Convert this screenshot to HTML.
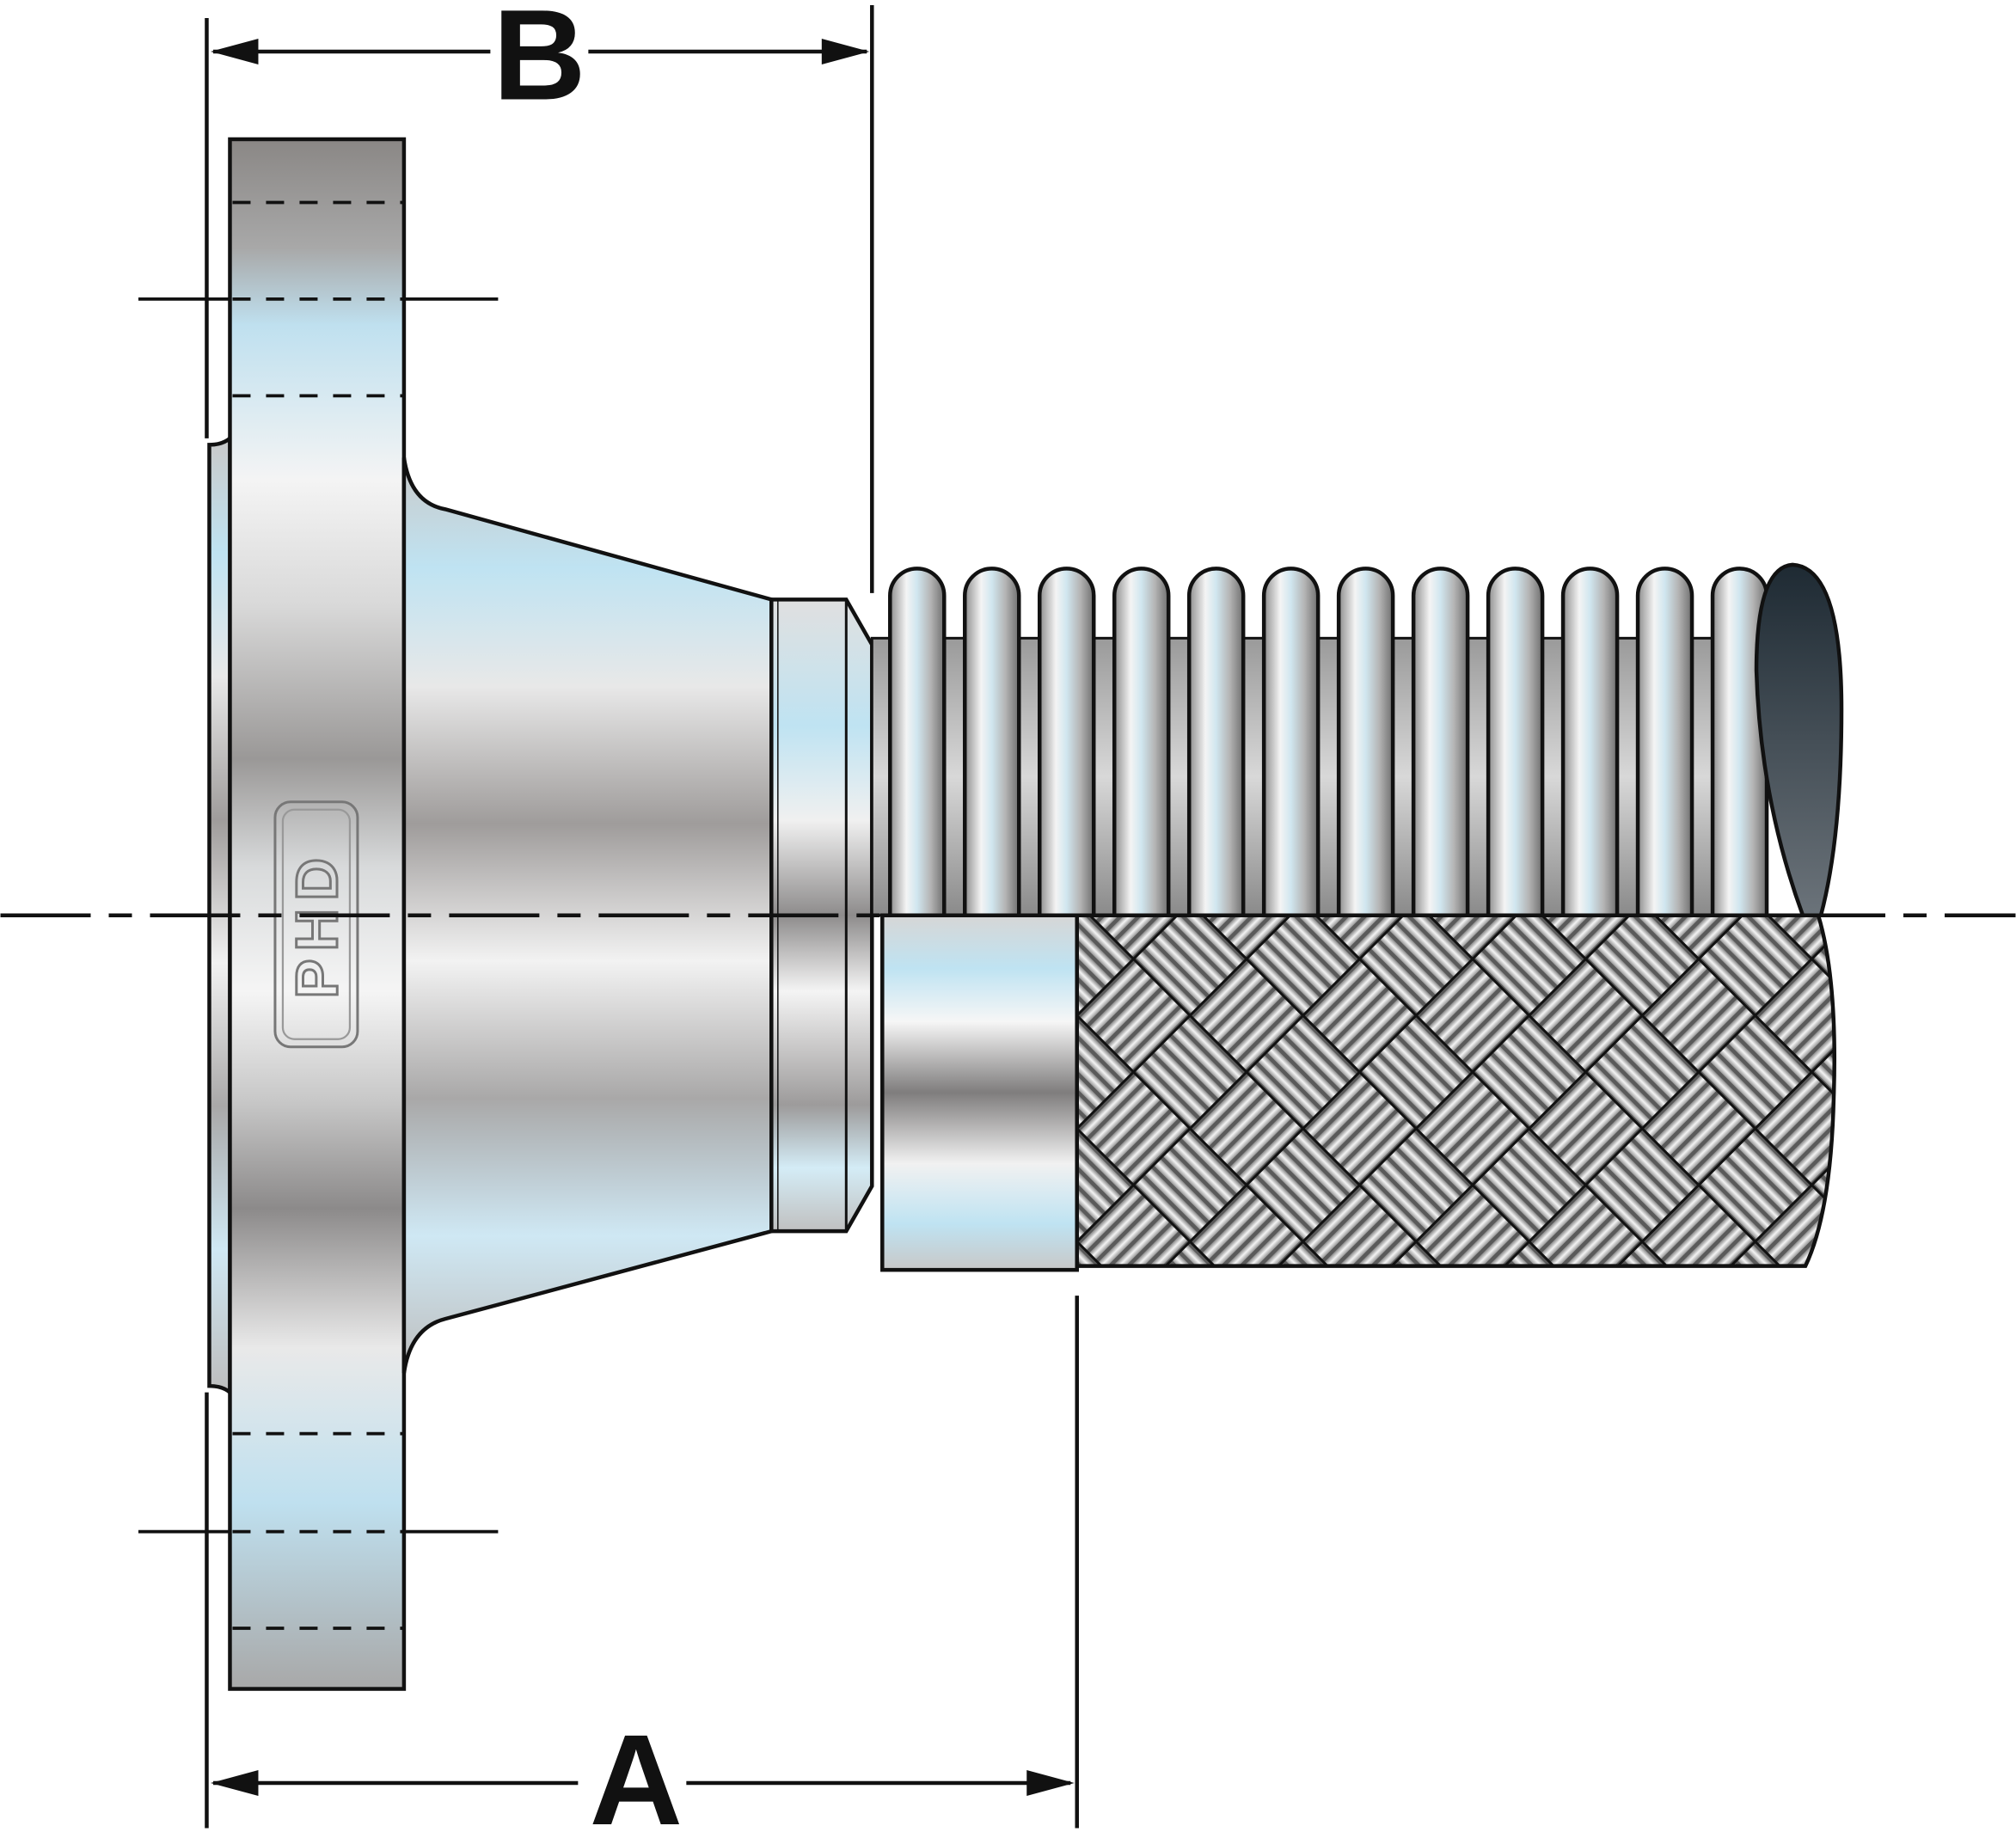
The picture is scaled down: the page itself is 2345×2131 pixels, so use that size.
<!DOCTYPE html>
<html><head><meta charset="utf-8"><style>
html,body{margin:0;padding:0;background:#fff}
svg{display:block}
</style></head><body>
<svg width="2345" height="2131" viewBox="0 0 1563 1421" xmlns="http://www.w3.org/2000/svg">
<defs>
<linearGradient id="fl" x1="0" y1="0" x2="0" y2="1">
<stop offset="0" stop-color="#8a8785"/><stop offset="0.07" stop-color="#a8a8a8"/><stop offset="0.12" stop-color="#bfe0ef"/><stop offset="0.22" stop-color="#f4f4f4"/><stop offset="0.3" stop-color="#d9d9d9"/><stop offset="0.4" stop-color="#9a9897"/><stop offset="0.47" stop-color="#d8dadb"/><stop offset="0.55" stop-color="#f5f5f5"/><stop offset="0.62" stop-color="#c8c8c8"/><stop offset="0.69" stop-color="#8c8a8a"/><stop offset="0.78" stop-color="#e9e9e9"/><stop offset="0.88" stop-color="#bfe0ef"/><stop offset="1" stop-color="#a8a8a8"/>
</linearGradient>
<linearGradient id="cn" x1="0" y1="0" x2="0" y2="1">
<stop offset="0" stop-color="#c9c9c9"/><stop offset="0.12" stop-color="#bfe3f2"/><stop offset="0.25" stop-color="#e8e8e8"/><stop offset="0.4" stop-color="#9f9c9b"/><stop offset="0.55" stop-color="#f2f2f2"/><stop offset="0.7" stop-color="#a9a8a8"/><stop offset="0.85" stop-color="#cfe8f4"/><stop offset="1" stop-color="#bdbdbd"/>
</linearGradient>
<linearGradient id="rg" x1="0" y1="0" x2="0" y2="1">
<stop offset="0" stop-color="#e0e0e0"/><stop offset="0.2" stop-color="#bfe3f2"/><stop offset="0.35" stop-color="#f0f0f0"/><stop offset="0.5" stop-color="#8e8c8c"/><stop offset="0.62" stop-color="#f4f4f4"/><stop offset="0.8" stop-color="#9d9b9b"/><stop offset="0.9" stop-color="#d4ecf6"/><stop offset="1" stop-color="#c0c0c0"/>
</linearGradient>
<linearGradient id="col" x1="0" y1="0" x2="0" y2="1">
<stop offset="0" stop-color="#d6d6d6"/><stop offset="0.15" stop-color="#bfe3f2"/><stop offset="0.3" stop-color="#f6f6f6"/><stop offset="0.5" stop-color="#7f7d7d"/><stop offset="0.7" stop-color="#f1f1f1"/><stop offset="0.87" stop-color="#bfe3f2"/><stop offset="1" stop-color="#c8c8c8"/>
</linearGradient>
<linearGradient id="cv" x1="0" y1="0" x2="1" y2="0">
<stop offset="0" stop-color="#8d8d8d"/><stop offset="0.3" stop-color="#f4f4f4"/><stop offset="0.5" stop-color="#d0e6ef"/><stop offset="0.75" stop-color="#b4b4b4"/><stop offset="1" stop-color="#6f6f6f"/>
</linearGradient>
<linearGradient id="tube" x1="0" y1="0" x2="0" y2="1">
<stop offset="0" stop-color="#9a9a9a"/><stop offset="0.5" stop-color="#d8d8d8"/><stop offset="1" stop-color="#8a8a8a"/>
</linearGradient>
<linearGradient id="end" x1="0" y1="0" x2="0" y2="1">
<stop offset="0" stop-color="#1e2a33"/><stop offset="1" stop-color="#6b737a"/>
</linearGradient>
<linearGradient id="str" x1="0" y1="0" x2="1" y2="0">
<stop offset="0" stop-color="#8a8a8a"/><stop offset="0.5" stop-color="#f4f4f4"/><stop offset="1" stop-color="#9a9a9a"/>
</linearGradient>
<linearGradient id="str2" x1="0" y1="0" x2="0" y2="1">
<stop offset="0" stop-color="#8a8a8a"/><stop offset="0.5" stop-color="#f4f4f4"/><stop offset="1" stop-color="#9a9a9a"/>
</linearGradient>
<g id="hb">
<rect x="0" y="0" width="60" height="60" fill="#5a5a5a"/>
<rect x="0" y="2" width="60" height="7" fill="url(#str2)"/><rect x="0" y="12" width="60" height="7" fill="url(#str2)"/><rect x="0" y="22" width="60" height="7" fill="url(#str2)"/><rect x="0" y="32" width="60" height="7" fill="url(#str2)"/><rect x="0" y="42" width="60" height="7" fill="url(#str2)"/><rect x="0" y="52" width="60" height="7" fill="url(#str2)"/>
</g>
<g id="vb">
<rect x="0" y="0" width="60" height="60" fill="#5a5a5a"/>
<rect x="2" y="0" width="7" height="60" fill="url(#str)"/><rect x="12" y="0" width="7" height="60" fill="url(#str)"/><rect x="22" y="0" width="7" height="60" fill="url(#str)"/><rect x="32" y="0" width="7" height="60" fill="url(#str)"/><rect x="42" y="0" width="7" height="60" fill="url(#str)"/><rect x="52" y="0" width="7" height="60" fill="url(#str)"/>
</g>
<pattern id="braid" width="124" height="124" patternUnits="userSpaceOnUse" patternTransform="translate(835,700) rotate(45)">
<rect width="124" height="124" fill="#111"/>
<use href="#hb" x="1" y="1"/>
<use href="#vb" x="63" y="1"/>
<use href="#vb" x="1" y="63"/>
<use href="#hb" x="63" y="63"/>
</pattern>
</defs>

<!-- dimensions -->
<g stroke="#111" stroke-width="3" fill="none">
<line x1="160" y1="14" x2="160" y2="340"/>
<line x1="676" y1="4" x2="676" y2="460"/>
<line x1="165" y1="40" x2="380" y2="40"/>
<line x1="456" y1="40" x2="672" y2="40"/>
<line x1="160" y1="1080" x2="160" y2="1418"/>
<line x1="835" y1="1005" x2="835" y2="1418"/>
<line x1="165" y1="1383" x2="448" y2="1383"/>
<line x1="532" y1="1383" x2="830" y2="1383"/>
</g>
<g fill="#111">
<polygon points="163,40 200,30 200,50"/>
<polygon points="674,40 637,30 637,50"/>
<polygon points="163,1383 200,1373 200,1393"/>
<polygon points="833,1383 796,1373 796,1393"/>
</g>
<text x="418" y="77" font-family="Liberation Sans, sans-serif" font-weight="bold" font-size="100" text-anchor="middle" fill="#111">B</text>
<text x="493" y="1415" font-family="Liberation Sans, sans-serif" font-weight="bold" font-size="100" text-anchor="middle" fill="#111">A</text>

<!-- flange lip -->
<path d="M162,345 Q172,345 178,340 L178,1080 Q172,1075 162,1075 Z" fill="url(#cn)" stroke="#111" stroke-width="3"/>
<!-- flange -->
<rect x="178" y="108" width="135" height="1202" fill="url(#fl)" stroke="#111" stroke-width="3"/>
<!-- cone -->
<path d="M313,355 Q318,390 345,395 L598,465 L598,955 L345,1023 Q318,1030 313,1065 Z" fill="url(#cn)" stroke="#111" stroke-width="3"/>
<!-- ring -->
<path d="M598,465 L656,465 L676,500 L676,920 L656,955 L598,955 Z" fill="url(#rg)" stroke="#111" stroke-width="3"/>
<line x1="656" y1="465" x2="656" y2="955" stroke="#111" stroke-width="2"/>
<line x1="603" y1="465" x2="603" y2="955" stroke="#111" stroke-width="1"/>

<!-- corrugated tube -->
<rect x="676" y="495" width="692" height="215" fill="url(#tube)" stroke="#111" stroke-width="2"/>
<g stroke="#111" stroke-width="3" fill="url(#cv)">
<path d="M690,710 L690,462 A21,21 0 0 1 732,462 L732,710 Z"/>
<path d="M748,710 L748,462 A21,21 0 0 1 790,462 L790,710 Z"/>
<path d="M806,710 L806,462 A21,21 0 0 1 848,462 L848,710 Z"/>
<path d="M864,710 L864,462 A21,21 0 0 1 906,462 L906,710 Z"/>
<path d="M922,710 L922,462 A21,21 0 0 1 964,462 L964,710 Z"/>
<path d="M980,710 L980,462 A21,21 0 0 1 1022,462 L1022,710 Z"/>
<path d="M1038,710 L1038,462 A21,21 0 0 1 1080,462 L1080,710 Z"/>
<path d="M1096,710 L1096,462 A21,21 0 0 1 1138,462 L1138,710 Z"/>
<path d="M1154,710 L1154,462 A21,21 0 0 1 1196,462 L1196,710 Z"/>
<path d="M1212,710 L1212,462 A21,21 0 0 1 1254,462 L1254,710 Z"/>
<path d="M1270,710 L1270,462 A21,21 0 0 1 1312,462 L1312,710 Z"/>
<path d="M1328,710 L1328,462 A21,21 0 0 1 1370,462 L1370,710 Z"/>
</g>
<path d="M1398,710 Q1365,620 1362,520 Q1362,440 1390,438 Q1428,440 1428,550 Q1428,650 1412,710 Z" fill="url(#end)" stroke="#111" stroke-width="3"/>

<!-- collar -->
<rect x="684" y="710" width="151" height="275" fill="url(#col)" stroke="#111" stroke-width="3"/>
<!-- braid -->
<path d="M835,710 L1410,710 Q1425,760 1422,850 Q1420,940 1400,982 L835,982 Z" fill="url(#braid)" stroke="#111" stroke-width="3"/>

<!-- PHD logo -->
<g transform="translate(245,717) rotate(-90)">
<rect x="-95" y="-32" width="190" height="64" rx="12" fill="none" stroke="#777" stroke-width="2"/>
<rect x="-89" y="-26" width="178" height="52" rx="9" fill="none" stroke="#999" stroke-width="1.5"/>
<text x="0" y="16" font-family="Liberation Sans, sans-serif" font-weight="bold" font-size="46" text-anchor="middle" fill="none" stroke="#777" stroke-width="2" letter-spacing="6">PHD</text>
</g>

<!-- hidden/center lines -->
<g stroke="#111" stroke-width="2.5">
<line x1="107" y1="232" x2="178" y2="232"/><line x1="313" y1="232" x2="386" y2="232"/>
<line x1="107" y1="1188" x2="178" y2="1188"/><line x1="313" y1="1188" x2="386" y2="1188"/>
</g>
<g stroke="#111" stroke-width="2.5" stroke-dasharray="14,12">
<line x1="180" y1="157" x2="312" y2="157"/>
<line x1="180" y1="232" x2="312" y2="232"/>
<line x1="180" y1="307" x2="312" y2="307"/>
<line x1="180" y1="1112" x2="312" y2="1112"/>
<line x1="180" y1="1188" x2="312" y2="1188"/>
<line x1="180" y1="1263" x2="312" y2="1263"/>
</g>
<line x1="0" y1="710" x2="1563" y2="710" stroke="#111" stroke-width="3" stroke-dasharray="70,14,18,14"/>
</svg>
</body></html>
